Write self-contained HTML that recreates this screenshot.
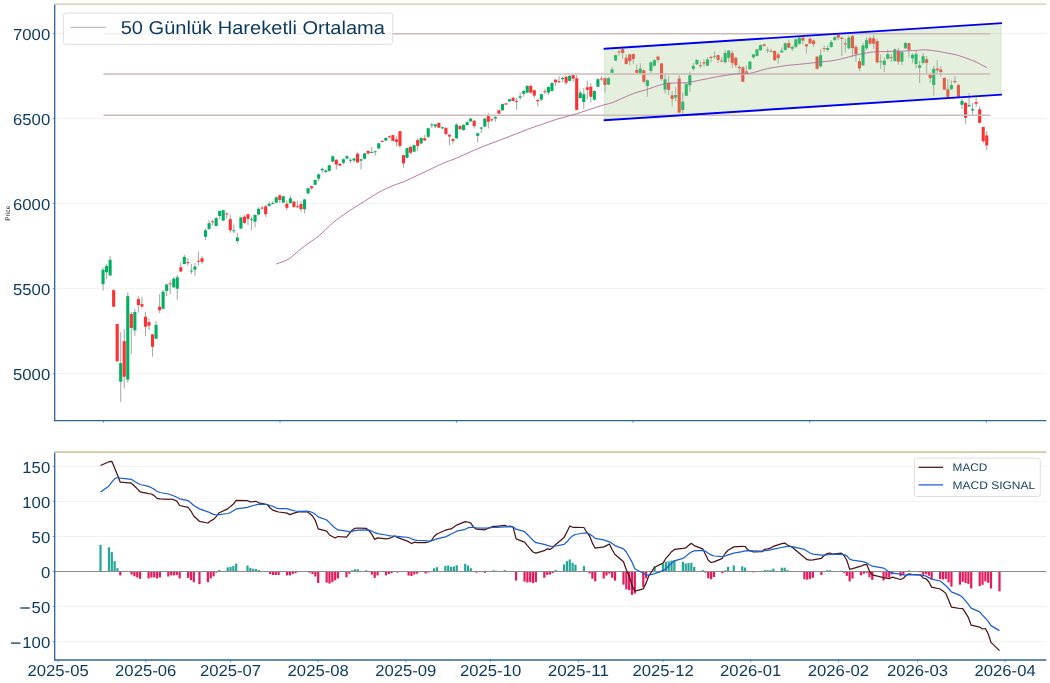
<!DOCTYPE html><html><head><meta charset="utf-8"><title>chart</title><style>html,body{margin:0;padding:0;background:#fff}svg{display:block;will-change:transform}text{font-family:"Liberation Sans",sans-serif;fill:#0c3a5c;text-rendering:geometricPrecision}</style></head><body>
<svg width="1050" height="683" viewBox="0 0 1050 683">
<rect width="1050" height="683" fill="#fff"/>
<line x1="54.7" y1="373.70" x2="1046.3" y2="373.70" stroke="#f1f1f1" stroke-width="1"/>
<line x1="54.7" y1="288.65" x2="1046.3" y2="288.65" stroke="#f1f1f1" stroke-width="1"/>
<line x1="54.7" y1="203.60" x2="1046.3" y2="203.60" stroke="#f1f1f1" stroke-width="1"/>
<line x1="54.7" y1="118.55" x2="1046.3" y2="118.55" stroke="#f1f1f1" stroke-width="1"/>
<line x1="54.7" y1="33.50" x2="1046.3" y2="33.50" stroke="#f1f1f1" stroke-width="1"/>
<g stroke="#ababab" stroke-width="1.1"><line x1="103.04" y1="267.51" x2="103.04" y2="290.48"/><line x1="106.57" y1="263.64" x2="106.57" y2="278.71"/><line x1="110.11" y1="256.03" x2="110.11" y2="276.12"/><line x1="113.64" y1="289.04" x2="113.64" y2="306.98"/><line x1="117.18" y1="324.00" x2="117.18" y2="361.50"/><line x1="120.71" y1="332.20" x2="120.71" y2="401.80"/><line x1="124.25" y1="328.90" x2="124.25" y2="388.60"/><line x1="127.78" y1="292.30" x2="127.78" y2="382.40"/><line x1="131.32" y1="312.00" x2="131.32" y2="354.00"/><line x1="134.85" y1="309.10" x2="134.85" y2="335.80"/><line x1="138.39" y1="296.22" x2="138.39" y2="312.72"/><line x1="141.92" y1="297.37" x2="141.92" y2="308.13"/><line x1="145.46" y1="311.70" x2="145.46" y2="336.10"/><line x1="148.99" y1="318.50" x2="148.99" y2="330.00"/><line x1="152.53" y1="334.00" x2="152.53" y2="356.60"/><line x1="156.06" y1="321.30" x2="156.06" y2="339.00"/><line x1="159.60" y1="294.21" x2="159.60" y2="313.15"/><line x1="163.13" y1="290.19" x2="163.13" y2="309.57"/><line x1="166.67" y1="283.73" x2="166.67" y2="295.93"/><line x1="170.20" y1="280.14" x2="170.20" y2="294.21"/><line x1="173.74" y1="276.98" x2="173.74" y2="288.04"/><line x1="177.27" y1="275.12" x2="177.27" y2="299.81"/><line x1="180.81" y1="262.20" x2="180.81" y2="271.96"/><line x1="184.34" y1="254.74" x2="184.34" y2="264.35"/><line x1="187.88" y1="257.89" x2="187.88" y2="265.79"/><line x1="191.41" y1="263.64" x2="191.41" y2="273.97"/><line x1="194.94" y1="262.92" x2="194.94" y2="275.84"/><line x1="198.48" y1="251.44" x2="198.48" y2="265.50"/><line x1="202.01" y1="256.17" x2="202.01" y2="263.92"/><line x1="205.55" y1="228.87" x2="205.55" y2="239.92"/><line x1="209.08" y1="220.26" x2="209.08" y2="229.88"/><line x1="212.62" y1="219.54" x2="212.62" y2="225.28"/><line x1="216.15" y1="216.67" x2="216.15" y2="226.43"/><line x1="219.69" y1="210.21" x2="219.69" y2="219.26"/><line x1="223.22" y1="209.50" x2="223.22" y2="221.27"/><line x1="226.76" y1="212.37" x2="226.76" y2="218.83"/><line x1="230.29" y1="214.52" x2="230.29" y2="232.75"/><line x1="233.83" y1="224.57" x2="233.83" y2="233.61"/><line x1="237.36" y1="233.18" x2="237.36" y2="243.51"/><line x1="240.90" y1="216.67" x2="240.90" y2="228.87"/><line x1="244.43" y1="214.52" x2="244.43" y2="223.85"/><line x1="247.97" y1="213.51" x2="247.97" y2="225.00"/><line x1="251.50" y1="216.67" x2="251.50" y2="230.31"/><line x1="255.04" y1="214.23" x2="255.04" y2="227.44"/><line x1="258.57" y1="207.34" x2="258.57" y2="215.52"/><line x1="262.11" y1="205.91" x2="262.11" y2="209.50"/><line x1="265.64" y1="204.90" x2="265.64" y2="216.96"/><line x1="269.18" y1="201.60" x2="269.18" y2="206.62"/><line x1="272.71" y1="200.88" x2="272.71" y2="204.47"/><line x1="276.25" y1="196.29" x2="276.25" y2="203.47"/><line x1="279.78" y1="194.14" x2="279.78" y2="203.04"/><line x1="283.31" y1="195.86" x2="283.31" y2="203.04"/><line x1="286.85" y1="200.17" x2="286.85" y2="210.21"/><line x1="290.38" y1="195.43" x2="290.38" y2="203.75"/><line x1="293.92" y1="200.60" x2="293.92" y2="207.63"/><line x1="297.45" y1="200.88" x2="297.45" y2="208.06"/><line x1="300.99" y1="200.88" x2="300.99" y2="211.65"/><line x1="304.52" y1="198.73" x2="304.52" y2="213.51"/><line x1="308.06" y1="187.68" x2="308.06" y2="193.71"/><line x1="311.59" y1="185.81" x2="311.59" y2="189.69"/><line x1="315.13" y1="179.35" x2="315.13" y2="185.09"/><line x1="318.66" y1="173.61" x2="318.66" y2="181.08"/><line x1="322.20" y1="167.41" x2="322.20" y2="173.15"/><line x1="325.73" y1="169.57" x2="325.73" y2="173.15"/><line x1="329.27" y1="164.54" x2="329.27" y2="171.43"/><line x1="332.80" y1="155.64" x2="332.80" y2="162.39"/><line x1="336.34" y1="158.80" x2="336.34" y2="169.57"/><line x1="339.87" y1="163.11" x2="339.87" y2="166.27"/><line x1="343.41" y1="158.51" x2="343.41" y2="164.54"/><line x1="346.94" y1="155.21" x2="346.94" y2="159.52"/><line x1="350.48" y1="158.08" x2="350.48" y2="163.39"/><line x1="354.01" y1="157.65" x2="354.01" y2="162.39"/><line x1="357.55" y1="152.34" x2="357.55" y2="162.82"/><line x1="361.08" y1="158.80" x2="361.08" y2="169.57"/><line x1="364.62" y1="152.77" x2="364.62" y2="159.52"/><line x1="368.15" y1="150.19" x2="368.15" y2="154.78"/><line x1="371.68" y1="147.03" x2="371.68" y2="153.06"/><line x1="375.22" y1="150.19" x2="375.22" y2="155.64"/><line x1="378.75" y1="142.73" x2="378.75" y2="149.04"/><line x1="382.29" y1="140.14" x2="382.29" y2="142.30"/><line x1="385.82" y1="137.27" x2="385.82" y2="141.29"/><line x1="389.36" y1="135.55" x2="389.36" y2="138.71"/><line x1="392.89" y1="134.40" x2="392.89" y2="141.29"/><line x1="396.43" y1="136.55" x2="396.43" y2="146.60"/><line x1="399.96" y1="130.81" x2="399.96" y2="148.04"/><line x1="403.50" y1="154.78" x2="403.50" y2="167.70"/><line x1="407.03" y1="147.61" x2="407.03" y2="158.08"/><line x1="410.57" y1="145.88" x2="410.57" y2="154.21"/><line x1="414.10" y1="144.45" x2="414.10" y2="151.91"/><line x1="417.64" y1="137.99" x2="417.64" y2="150.91"/><line x1="421.17" y1="137.27" x2="421.17" y2="144.16"/><line x1="424.71" y1="135.12" x2="424.71" y2="141.29"/><line x1="428.24" y1="127.94" x2="428.24" y2="137.99"/><line x1="431.78" y1="122.63" x2="431.78" y2="127.94"/><line x1="435.31" y1="123.64" x2="435.31" y2="128.37"/><line x1="438.85" y1="122.20" x2="438.85" y2="127.94"/><line x1="442.38" y1="126.51" x2="442.38" y2="129.38"/><line x1="445.92" y1="126.94" x2="445.92" y2="135.55"/><line x1="449.45" y1="134.40" x2="449.45" y2="145.17"/><line x1="452.99" y1="137.99" x2="452.99" y2="143.73"/><line x1="456.52" y1="123.20" x2="456.52" y2="138.70"/><line x1="460.05" y1="125.36" x2="460.05" y2="129.66"/><line x1="463.59" y1="124.35" x2="463.59" y2="130.67"/><line x1="467.12" y1="121.34" x2="467.12" y2="125.79"/><line x1="470.66" y1="117.75" x2="470.66" y2="122.20"/><line x1="474.19" y1="120.04" x2="474.19" y2="128.23"/><line x1="477.73" y1="132.53" x2="477.73" y2="142.58"/><line x1="481.26" y1="126.79" x2="481.26" y2="132.96"/><line x1="484.80" y1="117.75" x2="484.80" y2="127.51"/><line x1="488.33" y1="113.15" x2="488.33" y2="128.51"/><line x1="491.87" y1="118.18" x2="491.87" y2="121.77"/><line x1="495.40" y1="116.03" x2="495.40" y2="121.77"/><line x1="498.94" y1="109.57" x2="498.94" y2="114.16"/><line x1="502.47" y1="103.39" x2="502.47" y2="111.00"/><line x1="506.01" y1="102.82" x2="506.01" y2="104.97"/><line x1="509.54" y1="98.80" x2="509.54" y2="101.96"/><line x1="513.08" y1="96.65" x2="513.08" y2="101.39"/><line x1="516.61" y1="98.08" x2="516.61" y2="110.00"/><line x1="520.15" y1="92.34" x2="520.15" y2="99.81"/><line x1="523.68" y1="90.19" x2="523.68" y2="96.65"/><line x1="527.22" y1="85.17" x2="527.22" y2="93.06"/><line x1="530.75" y1="84.45" x2="530.75" y2="93.78"/><line x1="534.29" y1="89.47" x2="534.29" y2="98.08"/><line x1="537.82" y1="98.80" x2="537.82" y2="106.70"/><line x1="541.36" y1="93.49" x2="541.36" y2="100.95"/><line x1="544.89" y1="88.75" x2="544.89" y2="94.21"/><line x1="548.42" y1="86.31" x2="548.42" y2="94.78"/><line x1="551.96" y1="82.30" x2="551.96" y2="91.62"/><line x1="555.49" y1="78.71" x2="555.49" y2="85.88"/><line x1="559.03" y1="76.12" x2="559.03" y2="83.01"/><line x1="562.56" y1="76.55" x2="562.56" y2="81.86"/><line x1="566.10" y1="76.12" x2="566.10" y2="84.88"/><line x1="569.63" y1="75.12" x2="569.63" y2="81.58"/><line x1="573.17" y1="74.40" x2="573.17" y2="81.86"/><line x1="576.70" y1="75.12" x2="576.70" y2="110.28"/><line x1="580.24" y1="90.19" x2="580.24" y2="98.80"/><line x1="583.77" y1="88.04" x2="583.77" y2="109.14"/><line x1="587.31" y1="80.86" x2="587.31" y2="99.52"/><line x1="590.84" y1="83.13" x2="590.84" y2="102.51"/><line x1="594.38" y1="89.88" x2="594.38" y2="100.79"/><line x1="597.91" y1="78.11" x2="597.91" y2="87.15"/><line x1="601.45" y1="75.95" x2="601.45" y2="80.69"/><line x1="604.98" y1="77.39" x2="604.98" y2="92.46"/><line x1="608.52" y1="76.96" x2="608.52" y2="85.28"/><line x1="612.05" y1="66.91" x2="612.05" y2="73.37"/><line x1="615.59" y1="54.42" x2="615.59" y2="60.88"/><line x1="619.12" y1="49.40" x2="619.12" y2="55.86"/><line x1="622.66" y1="47.97" x2="622.66" y2="58.73"/><line x1="626.19" y1="54.42" x2="626.19" y2="64.47"/><line x1="629.73" y1="53.71" x2="629.73" y2="65.48"/><line x1="633.26" y1="53.42" x2="633.26" y2="64.04"/><line x1="636.79" y1="64.47" x2="636.79" y2="73.37"/><line x1="640.33" y1="63.04" x2="640.33" y2="73.51"/><line x1="643.86" y1="69.50" x2="643.86" y2="83.56"/><line x1="647.40" y1="79.54" x2="647.40" y2="96.77"/><line x1="650.93" y1="61.60" x2="650.93" y2="73.08"/><line x1="654.47" y1="58.73" x2="654.47" y2="66.62"/><line x1="658.00" y1="55.86" x2="658.00" y2="62.61"/><line x1="661.54" y1="62.61" x2="661.54" y2="80.69"/><line x1="665.07" y1="73.08" x2="665.07" y2="93.61"/><line x1="668.61" y1="75.95" x2="668.61" y2="95.04"/><line x1="672.14" y1="91.31" x2="672.14" y2="106.10"/><line x1="675.68" y1="87.01" x2="675.68" y2="101.07"/><line x1="679.21" y1="75.24" x2="679.21" y2="112.84"/><line x1="682.75" y1="92.17" x2="682.75" y2="113.99"/><line x1="686.28" y1="83.13" x2="686.28" y2="96.34"/><line x1="689.82" y1="71.65" x2="689.82" y2="91.74"/><line x1="693.35" y1="63.04" x2="693.35" y2="70.64"/><line x1="696.89" y1="59.16" x2="696.89" y2="64.90"/><line x1="700.42" y1="61.60" x2="700.42" y2="68.06"/><line x1="703.96" y1="59.45" x2="703.96" y2="66.62"/><line x1="707.49" y1="57.30" x2="707.49" y2="66.34"/><line x1="711.03" y1="55.86" x2="711.03" y2="62.61"/><line x1="714.56" y1="51.55" x2="714.56" y2="58.73"/><line x1="718.10" y1="54.42" x2="718.10" y2="63.04"/><line x1="721.63" y1="57.30" x2="721.63" y2="62.03"/><line x1="725.16" y1="50.60" x2="725.16" y2="63.23"/><line x1="728.70" y1="50.17" x2="728.70" y2="61.65"/><line x1="732.23" y1="50.60" x2="732.23" y2="67.82"/><line x1="735.77" y1="56.62" x2="735.77" y2="67.82"/><line x1="739.30" y1="64.95" x2="739.30" y2="73.13"/><line x1="742.84" y1="65.95" x2="742.84" y2="82.17"/><line x1="746.37" y1="65.24" x2="746.37" y2="73.56"/><line x1="749.91" y1="60.93" x2="749.91" y2="69.83"/><line x1="753.44" y1="53.75" x2="753.44" y2="58.49"/><line x1="756.98" y1="48.73" x2="756.98" y2="56.62"/><line x1="760.51" y1="44.42" x2="760.51" y2="50.88"/><line x1="764.05" y1="43.42" x2="764.05" y2="46.86"/><line x1="767.58" y1="47.30" x2="767.58" y2="53.04"/><line x1="771.12" y1="48.73" x2="771.12" y2="52.32"/><line x1="774.65" y1="50.17" x2="774.65" y2="60.93"/><line x1="778.19" y1="52.32" x2="778.19" y2="63.80"/><line x1="781.72" y1="47.30" x2="781.72" y2="53.04"/><line x1="785.26" y1="42.56" x2="785.26" y2="50.60"/><line x1="788.79" y1="39.69" x2="788.79" y2="48.30"/><line x1="792.33" y1="45.86" x2="792.33" y2="50.88"/><line x1="795.86" y1="38.25" x2="795.86" y2="48.01"/><line x1="799.40" y1="36.82" x2="799.40" y2="44.86"/><line x1="802.93" y1="36.53" x2="802.93" y2="44.42"/><line x1="806.47" y1="43.71" x2="806.47" y2="53.47"/><line x1="810.00" y1="37.68" x2="810.00" y2="44.14"/><line x1="813.53" y1="39.40" x2="813.53" y2="46.86"/><line x1="817.07" y1="55.91" x2="817.07" y2="69.54"/><line x1="820.60" y1="49.16" x2="820.60" y2="67.39"/><line x1="824.14" y1="45.43" x2="824.14" y2="52.03"/><line x1="827.67" y1="45.14" x2="827.67" y2="51.60"/><line x1="831.21" y1="40.12" x2="831.21" y2="47.73"/><line x1="834.74" y1="35.81" x2="834.74" y2="40.84"/><line x1="838.28" y1="33.95" x2="838.28" y2="40.12"/><line x1="841.81" y1="36.53" x2="841.81" y2="55.91"/><line x1="845.35" y1="39.11" x2="845.35" y2="52.61"/><line x1="848.88" y1="35.81" x2="848.88" y2="49.16"/><line x1="852.42" y1="35.09" x2="852.42" y2="57.34"/><line x1="855.95" y1="45.14" x2="855.95" y2="61.65"/><line x1="859.49" y1="57.77" x2="859.49" y2="71.41"/><line x1="863.02" y1="42.99" x2="863.02" y2="65.95"/><line x1="866.56" y1="37.25" x2="866.56" y2="50.17"/><line x1="870.09" y1="36.24" x2="870.09" y2="44.42"/><line x1="873.63" y1="35.09" x2="873.63" y2="48.73"/><line x1="877.16" y1="38.68" x2="877.16" y2="63.51"/><line x1="880.70" y1="54.47" x2="880.70" y2="68.83"/><line x1="884.23" y1="57.34" x2="884.23" y2="71.98"/><line x1="887.77" y1="49.45" x2="887.77" y2="59.50"/><line x1="891.30" y1="53.75" x2="891.30" y2="62.37"/><line x1="894.84" y1="48.30" x2="894.84" y2="61.65"/><line x1="898.37" y1="48.01" x2="898.37" y2="64.81"/><line x1="901.90" y1="51.17" x2="901.90" y2="65.24"/><line x1="905.44" y1="41.55" x2="905.44" y2="49.02"/><line x1="908.97" y1="42.56" x2="908.97" y2="57.77"/><line x1="912.51" y1="53.47" x2="912.51" y2="63.08"/><line x1="916.04" y1="50.88" x2="916.04" y2="68.39"/><line x1="919.58" y1="60.93" x2="919.58" y2="83.18"/><line x1="923.11" y1="53.04" x2="923.11" y2="64.52"/><line x1="926.65" y1="55.91" x2="926.65" y2="73.13"/><line x1="930.18" y1="72.41" x2="930.18" y2="82.75"/><line x1="933.72" y1="65.95" x2="933.72" y2="95.67"/><line x1="937.25" y1="60.21" x2="937.25" y2="73.13"/><line x1="940.79" y1="65.95" x2="940.79" y2="76.72"/><line x1="944.32" y1="77.44" x2="944.32" y2="90.07"/><line x1="947.86" y1="79.16" x2="947.86" y2="97.10"/><line x1="951.39" y1="80.31" x2="951.39" y2="89.92"/><line x1="954.93" y1="76.00" x2="954.93" y2="83.18"/><line x1="958.46" y1="83.90" x2="958.46" y2="97.10"/><line x1="962.00" y1="98.72" x2="962.00" y2="108.92"/><line x1="965.53" y1="102.34" x2="965.53" y2="123.63"/><line x1="969.07" y1="93.23" x2="969.07" y2="106.95"/><line x1="972.60" y1="103.11" x2="972.60" y2="114.63"/><line x1="976.14" y1="97.62" x2="976.14" y2="106.95"/><line x1="979.67" y1="106.40" x2="979.67" y2="123.19"/><line x1="983.21" y1="126.70" x2="983.21" y2="143.16"/><line x1="986.74" y1="131.09" x2="986.74" y2="149.97"/></g>
<g fill="#00b060"><rect x="101.49" y="269.81" width="3.10" height="14.35"/><rect x="105.02" y="266.08" width="3.10" height="6.17"/><rect x="108.56" y="259.76" width="3.10" height="15.65"/><rect x="119.16" y="363.10" width="3.10" height="18.60"/><rect x="126.23" y="296.20" width="3.10" height="83.40"/><rect x="133.30" y="312.00" width="3.10" height="18.30"/><rect x="154.51" y="324.90" width="3.10" height="13.80"/><rect x="161.58" y="291.62" width="3.10" height="17.22"/><rect x="165.12" y="284.45" width="3.10" height="6.46"/><rect x="172.19" y="278.71" width="3.10" height="8.61"/><rect x="175.72" y="277.27" width="3.10" height="11.48"/><rect x="182.79" y="256.89" width="3.10" height="7.18"/><rect x="189.86" y="270.53" width="3.10" height="0.90"/><rect x="193.39" y="266.51" width="3.10" height="3.16"/><rect x="204.00" y="230.31" width="3.10" height="6.46"/><rect x="207.53" y="223.13" width="3.10" height="5.74"/><rect x="214.60" y="218.11" width="3.10" height="7.89"/><rect x="218.14" y="210.93" width="3.10" height="5.02"/><rect x="221.67" y="210.21" width="3.10" height="10.33"/><rect x="232.28" y="230.31" width="3.10" height="0.90"/><rect x="235.81" y="237.48" width="3.10" height="3.59"/><rect x="239.35" y="217.39" width="3.10" height="11.20"/><rect x="249.95" y="219.26" width="3.10" height="0.90"/><rect x="253.49" y="214.95" width="3.10" height="6.75"/><rect x="257.02" y="208.78" width="3.10" height="5.74"/><rect x="267.63" y="203.75" width="3.10" height="2.15"/><rect x="271.16" y="203.04" width="3.10" height="0.90"/><rect x="274.70" y="197.30" width="3.10" height="5.31"/><rect x="281.76" y="196.29" width="3.10" height="6.32"/><rect x="288.83" y="198.30" width="3.10" height="4.74"/><rect x="302.97" y="199.45" width="3.10" height="9.76"/><rect x="306.51" y="188.25" width="3.10" height="5.17"/><rect x="313.58" y="180.07" width="3.10" height="4.74"/><rect x="317.11" y="174.33" width="3.10" height="4.31"/><rect x="320.65" y="168.85" width="3.10" height="1.44"/><rect x="324.18" y="170.57" width="3.10" height="1.44"/><rect x="327.72" y="165.26" width="3.10" height="5.74"/><rect x="331.25" y="156.22" width="3.10" height="5.45"/><rect x="341.86" y="159.23" width="3.10" height="3.59"/><rect x="345.39" y="156.22" width="3.10" height="2.30"/><rect x="348.93" y="159.81" width="3.10" height="0.90"/><rect x="352.46" y="158.51" width="3.10" height="2.01"/><rect x="359.53" y="159.23" width="3.10" height="1.44"/><rect x="363.07" y="153.35" width="3.10" height="5.45"/><rect x="370.13" y="152.06" width="3.10" height="0.90"/><rect x="373.67" y="151.34" width="3.10" height="0.90"/><rect x="377.20" y="143.30" width="3.10" height="5.17"/><rect x="384.27" y="137.99" width="3.10" height="2.58"/><rect x="405.48" y="148.04" width="3.10" height="9.76"/><rect x="412.55" y="145.17" width="3.10" height="6.46"/><rect x="419.62" y="137.99" width="3.10" height="5.45"/><rect x="426.69" y="128.23" width="3.10" height="8.61"/><rect x="430.23" y="124.35" width="3.10" height="0.90"/><rect x="433.76" y="124.35" width="3.10" height="2.15"/><rect x="440.83" y="127.22" width="3.10" height="1.15"/><rect x="454.97" y="124.64" width="3.10" height="13.64"/><rect x="462.04" y="124.92" width="3.10" height="5.17"/><rect x="465.57" y="122.20" width="3.10" height="2.87"/><rect x="469.11" y="118.61" width="3.10" height="2.73"/><rect x="476.18" y="133.25" width="3.10" height="2.58"/><rect x="479.71" y="127.51" width="3.10" height="1.15"/><rect x="483.25" y="118.61" width="3.10" height="7.89"/><rect x="493.85" y="117.03" width="3.10" height="1.44"/><rect x="500.92" y="104.11" width="3.10" height="6.17"/><rect x="507.99" y="99.23" width="3.10" height="2.15"/><rect x="518.60" y="96.36" width="3.10" height="1.29"/><rect x="522.13" y="90.91" width="3.10" height="2.87"/><rect x="525.67" y="85.88" width="3.10" height="6.75"/><rect x="539.81" y="94.21" width="3.10" height="5.31"/><rect x="546.87" y="87.03" width="3.10" height="5.60"/><rect x="550.41" y="83.01" width="3.10" height="7.89"/><rect x="561.01" y="77.99" width="3.10" height="1.15"/><rect x="568.08" y="75.84" width="3.10" height="5.02"/><rect x="578.69" y="92.63" width="3.10" height="5.45"/><rect x="582.22" y="94.21" width="3.10" height="7.75"/><rect x="592.83" y="91.03" width="3.10" height="8.61"/><rect x="596.36" y="79.26" width="3.10" height="7.46"/><rect x="606.97" y="78.11" width="3.10" height="6.46"/><rect x="610.50" y="69.50" width="3.10" height="3.30"/><rect x="614.04" y="55.14" width="3.10" height="5.31"/><rect x="638.78" y="68.49" width="3.10" height="4.59"/><rect x="645.85" y="80.26" width="3.10" height="5.74"/><rect x="649.38" y="62.32" width="3.10" height="8.61"/><rect x="652.92" y="60.17" width="3.10" height="5.45"/><rect x="663.52" y="79.26" width="3.10" height="10.33"/><rect x="674.13" y="95.04" width="3.10" height="2.44"/><rect x="681.20" y="101.79" width="3.10" height="8.18"/><rect x="684.73" y="83.85" width="3.10" height="11.91"/><rect x="688.27" y="75.24" width="3.10" height="10.05"/><rect x="691.80" y="65.91" width="3.10" height="2.87"/><rect x="695.34" y="59.88" width="3.10" height="4.31"/><rect x="705.94" y="59.45" width="3.10" height="6.17"/><rect x="713.01" y="55.86" width="3.10" height="0.90"/><rect x="723.61" y="53.04" width="3.10" height="9.33"/><rect x="727.15" y="50.60" width="3.10" height="7.18"/><rect x="748.36" y="61.65" width="3.10" height="7.61"/><rect x="751.89" y="54.47" width="3.10" height="2.87"/><rect x="755.43" y="49.45" width="3.10" height="6.46"/><rect x="758.96" y="45.14" width="3.10" height="5.02"/><rect x="766.03" y="49.74" width="3.10" height="0.90"/><rect x="780.17" y="50.60" width="3.10" height="1.72"/><rect x="783.71" y="43.28" width="3.10" height="6.60"/><rect x="790.78" y="47.01" width="3.10" height="1.72"/><rect x="794.31" y="39.40" width="3.10" height="7.46"/><rect x="797.85" y="37.68" width="3.10" height="6.03"/><rect x="819.05" y="55.19" width="3.10" height="11.20"/><rect x="826.12" y="48.01" width="3.10" height="1.87"/><rect x="829.66" y="41.98" width="3.10" height="5.02"/><rect x="833.19" y="37.25" width="3.10" height="2.87"/><rect x="847.33" y="37.68" width="3.10" height="10.62"/><rect x="861.47" y="45.43" width="3.10" height="19.81"/><rect x="865.01" y="40.12" width="3.10" height="8.18"/><rect x="879.15" y="61.36" width="3.10" height="0.90"/><rect x="882.68" y="60.64" width="3.10" height="4.16"/><rect x="886.22" y="54.18" width="3.10" height="4.59"/><rect x="893.29" y="49.45" width="3.10" height="11.48"/><rect x="900.35" y="52.03" width="3.10" height="9.62"/><rect x="903.89" y="42.99" width="3.10" height="5.31"/><rect x="910.96" y="54.76" width="3.10" height="3.59"/><rect x="914.49" y="54.04" width="3.10" height="10.05"/><rect x="918.03" y="65.24" width="3.10" height="2.58"/><rect x="921.56" y="56.19" width="3.10" height="6.60"/><rect x="932.17" y="68.83" width="3.10" height="16.22"/><rect x="949.84" y="85.04" width="3.10" height="4.16"/><rect x="960.45" y="100.91" width="3.10" height="3.84"/><rect x="967.52" y="105.08" width="3.10" height="1.32"/><rect x="971.05" y="109.14" width="3.10" height="1.32"/></g>
<g fill="#fe3032"><rect x="112.09" y="290.19" width="3.10" height="16.51"/><rect x="115.63" y="324.00" width="3.10" height="37.30"/><rect x="122.70" y="341.10" width="3.10" height="35.60"/><rect x="129.77" y="313.90" width="3.10" height="14.00"/><rect x="136.84" y="299.09" width="3.10" height="5.88"/><rect x="140.37" y="304.11" width="3.10" height="2.44"/><rect x="143.91" y="316.70" width="3.10" height="10.00"/><rect x="147.44" y="322.10" width="3.10" height="3.60"/><rect x="150.98" y="334.40" width="3.10" height="12.40"/><rect x="158.05" y="306.70" width="3.10" height="3.59"/><rect x="168.65" y="283.44" width="3.10" height="0.90"/><rect x="179.26" y="267.22" width="3.10" height="4.31"/><rect x="186.33" y="262.20" width="3.10" height="1.00"/><rect x="196.93" y="260.77" width="3.10" height="0.90"/><rect x="200.46" y="258.18" width="3.10" height="3.73"/><rect x="211.07" y="221.41" width="3.10" height="0.90"/><rect x="225.21" y="213.51" width="3.10" height="0.90"/><rect x="228.74" y="219.11" width="3.10" height="11.20"/><rect x="242.88" y="216.67" width="3.10" height="6.17"/><rect x="246.42" y="214.23" width="3.10" height="4.59"/><rect x="260.56" y="207.63" width="3.10" height="0.90"/><rect x="264.09" y="206.34" width="3.10" height="7.89"/><rect x="278.23" y="195.43" width="3.10" height="4.45"/><rect x="285.30" y="203.75" width="3.10" height="4.02"/><rect x="292.37" y="201.60" width="3.10" height="5.31"/><rect x="295.90" y="206.34" width="3.10" height="0.90"/><rect x="299.44" y="204.04" width="3.10" height="5.17"/><rect x="310.04" y="186.24" width="3.10" height="2.01"/><rect x="334.79" y="159.81" width="3.10" height="4.74"/><rect x="338.32" y="163.83" width="3.10" height="1.72"/><rect x="356.00" y="153.78" width="3.10" height="8.61"/><rect x="366.60" y="150.91" width="3.10" height="2.58"/><rect x="380.74" y="140.86" width="3.10" height="1.00"/><rect x="387.81" y="136.27" width="3.10" height="1.00"/><rect x="391.34" y="135.12" width="3.10" height="5.74"/><rect x="394.88" y="139.42" width="3.10" height="2.44"/><rect x="398.41" y="131.24" width="3.10" height="14.64"/><rect x="401.95" y="155.21" width="3.10" height="8.18"/><rect x="409.02" y="147.03" width="3.10" height="5.74"/><rect x="416.09" y="140.14" width="3.10" height="5.74"/><rect x="423.16" y="138.28" width="3.10" height="2.15"/><rect x="437.30" y="122.92" width="3.10" height="4.74"/><rect x="444.37" y="127.94" width="3.10" height="6.03"/><rect x="447.90" y="134.83" width="3.10" height="1.72"/><rect x="451.44" y="139.14" width="3.10" height="1.72"/><rect x="458.50" y="126.07" width="3.10" height="3.16"/><rect x="472.64" y="120.76" width="3.10" height="5.31"/><rect x="486.78" y="116.03" width="3.10" height="5.74"/><rect x="490.32" y="119.33" width="3.10" height="0.90"/><rect x="497.39" y="110.28" width="3.10" height="3.30"/><rect x="504.46" y="103.39" width="3.10" height="1.15"/><rect x="511.53" y="97.80" width="3.10" height="3.16"/><rect x="515.06" y="101.10" width="3.10" height="0.90"/><rect x="529.20" y="85.88" width="3.10" height="6.75"/><rect x="532.74" y="90.19" width="3.10" height="5.45"/><rect x="536.27" y="99.95" width="3.10" height="1.29"/><rect x="543.34" y="91.34" width="3.10" height="0.90"/><rect x="553.94" y="79.71" width="3.10" height="2.58"/><rect x="557.48" y="81.29" width="3.10" height="1.00"/><rect x="564.55" y="76.84" width="3.10" height="5.88"/><rect x="571.62" y="75.12" width="3.10" height="3.59"/><rect x="575.15" y="78.28" width="3.10" height="31.72"/><rect x="585.76" y="87.32" width="3.10" height="2.44"/><rect x="589.29" y="86.72" width="3.10" height="10.05"/><rect x="599.90" y="78.54" width="3.10" height="0.90"/><rect x="603.43" y="78.11" width="3.10" height="6.89"/><rect x="617.57" y="51.55" width="3.10" height="1.00"/><rect x="621.11" y="49.11" width="3.10" height="3.88"/><rect x="624.64" y="57.73" width="3.10" height="6.32"/><rect x="628.18" y="54.42" width="3.10" height="6.75"/><rect x="631.71" y="53.99" width="3.10" height="5.17"/><rect x="635.24" y="69.93" width="3.10" height="2.87"/><rect x="642.31" y="70.21" width="3.10" height="11.48"/><rect x="656.45" y="56.58" width="3.10" height="3.30"/><rect x="659.99" y="63.47" width="3.10" height="15.36"/><rect x="667.06" y="82.70" width="3.10" height="7.18"/><rect x="670.59" y="95.33" width="3.10" height="3.59"/><rect x="677.66" y="78.54" width="3.10" height="34.02"/><rect x="698.87" y="65.33" width="3.10" height="0.90"/><rect x="702.41" y="62.32" width="3.10" height="1.15"/><rect x="709.48" y="56.86" width="3.10" height="1.15"/><rect x="716.55" y="55.14" width="3.10" height="4.74"/><rect x="720.08" y="60.60" width="3.10" height="0.90"/><rect x="730.68" y="53.04" width="3.10" height="10.05"/><rect x="734.22" y="57.77" width="3.10" height="7.46"/><rect x="737.75" y="66.96" width="3.10" height="1.15"/><rect x="741.29" y="67.39" width="3.10" height="14.35"/><rect x="744.82" y="71.41" width="3.10" height="1.44"/><rect x="762.50" y="44.42" width="3.10" height="1.44"/><rect x="769.57" y="50.88" width="3.10" height="0.90"/><rect x="773.10" y="50.88" width="3.10" height="9.33"/><rect x="776.64" y="54.47" width="3.10" height="3.59"/><rect x="787.24" y="42.99" width="3.10" height="4.74"/><rect x="801.38" y="37.68" width="3.10" height="2.87"/><rect x="804.92" y="44.42" width="3.10" height="1.87"/><rect x="808.45" y="38.68" width="3.10" height="4.74"/><rect x="811.98" y="40.55" width="3.10" height="3.59"/><rect x="815.52" y="56.62" width="3.10" height="12.20"/><rect x="822.59" y="48.16" width="3.10" height="0.90"/><rect x="836.73" y="34.66" width="3.10" height="3.01"/><rect x="840.26" y="37.68" width="3.10" height="1.29"/><rect x="843.80" y="43.28" width="3.10" height="1.15"/><rect x="850.87" y="36.24" width="3.10" height="11.77"/><rect x="854.40" y="46.86" width="3.10" height="7.18"/><rect x="857.94" y="61.22" width="3.10" height="7.18"/><rect x="868.54" y="38.25" width="3.10" height="5.45"/><rect x="872.08" y="38.25" width="3.10" height="5.45"/><rect x="875.61" y="41.12" width="3.10" height="21.24"/><rect x="889.75" y="57.06" width="3.10" height="0.90"/><rect x="896.82" y="50.88" width="3.10" height="10.77"/><rect x="907.42" y="43.28" width="3.10" height="6.60"/><rect x="925.10" y="59.21" width="3.10" height="3.59"/><rect x="928.63" y="75.00" width="3.10" height="3.16"/><rect x="935.70" y="68.54" width="3.10" height="1.72"/><rect x="939.24" y="69.54" width="3.10" height="2.44"/><rect x="942.77" y="77.87" width="3.10" height="11.77"/><rect x="946.31" y="89.21" width="3.10" height="7.61"/><rect x="953.38" y="81.03" width="3.10" height="1.15"/><rect x="956.91" y="85.04" width="3.10" height="11.77"/><rect x="963.98" y="102.78" width="3.10" height="14.92"/><rect x="974.59" y="102.01" width="3.10" height="1.65"/><rect x="978.12" y="109.36" width="3.10" height="13.50"/><rect x="981.66" y="127.03" width="3.10" height="14.16"/><rect x="985.19" y="135.48" width="3.10" height="9.88"/></g>
<polygon points="604.6,48.8 1001.0,23.2 1001.0,94.7 604.6,120.2" fill="rgb(162,205,137)" fill-opacity="0.29" stroke="rgb(140,195,120)" stroke-opacity="0.3" stroke-width="1"/>
<line x1="103.4" y1="33.8" x2="990.3" y2="33.8" stroke="#ccbaba" stroke-width="1.5"/>
<line x1="103.4" y1="74.1" x2="990.3" y2="74.1" stroke="#ccbaba" stroke-width="1.5"/>
<line x1="103.4" y1="115.3" x2="990.3" y2="115.3" stroke="#ccbaba" stroke-width="1.5"/>
<polyline fill="none" stroke="#b0689c" stroke-width="0.9" stroke-linejoin="round" points="276.2,264.09 279.8,262.74 283.3,261.49 286.8,260.02 290.4,257.77 293.9,254.86 297.5,251.74 301.0,248.80 304.5,246.19 308.1,243.64 311.6,241.11 315.1,238.63 318.7,235.96 322.2,232.92 325.7,229.59 329.3,226.15 332.8,222.86 336.3,219.98 339.9,217.42 343.4,214.93 346.9,212.45 350.5,210.06 354.0,207.78 357.5,205.57 361.1,203.39 364.6,201.18 368.2,198.92 371.7,196.68 375.2,194.45 378.8,192.33 382.3,190.48 385.8,188.81 389.4,187.18 392.9,185.68 396.4,184.34 400.0,183.11 403.5,181.81 407.0,180.29 410.6,178.62 414.1,176.93 417.6,175.29 421.2,173.64 424.7,171.98 428.2,170.27 431.8,168.55 435.3,166.87 438.8,165.21 442.4,163.61 445.9,162.15 449.5,160.80 453.0,159.46 456.5,158.05 460.1,156.54 463.6,154.96 467.1,153.35 470.7,151.73 474.2,150.17 477.7,148.68 481.3,147.23 484.8,145.81 488.3,144.44 491.9,143.11 495.4,141.81 498.9,140.50 502.5,139.13 506.0,137.77 509.5,136.42 513.1,135.05 516.6,133.66 520.1,132.27 523.7,130.86 527.2,129.46 530.8,128.15 534.3,126.92 537.8,125.72 541.4,124.53 544.9,123.32 548.4,122.08 552.0,120.83 555.5,119.67 559.0,118.64 562.6,117.67 566.1,116.71 569.6,115.71 573.2,114.72 576.7,113.70 580.2,112.56 583.8,111.37 587.3,110.22 590.8,109.09 594.4,107.96 597.9,106.78 601.4,105.62 605.0,104.61 608.5,103.74 612.1,102.70 615.6,101.30 619.1,99.73 622.7,98.14 626.2,96.56 629.7,95.00 633.3,93.59 636.8,92.40 640.3,91.35 643.9,90.38 647.4,89.37 650.9,88.17 654.5,86.85 658.0,85.60 661.5,84.60 665.1,83.89 668.6,83.40 672.1,83.08 675.7,82.94 679.2,82.93 682.7,82.90 686.3,82.68 689.8,82.20 693.4,81.49 696.9,80.74 700.4,80.06 704.0,79.40 707.5,78.72 711.0,77.99 714.6,77.24 718.1,76.55 721.6,75.94 725.2,75.36 728.7,74.82 732.2,74.35 735.8,73.95 739.3,73.68 742.8,73.64 746.4,73.67 749.9,73.36 753.4,72.53 757.0,71.52 760.5,70.52 764.0,69.52 767.6,68.59 771.1,67.87 774.7,67.34 778.2,66.82 781.7,66.23 785.3,65.66 788.8,65.22 792.3,64.91 795.9,64.61 799.4,64.27 802.9,63.90 806.5,63.56 810.0,63.19 813.5,62.82 817.1,62.48 820.6,62.07 824.1,61.62 827.7,61.22 831.2,60.83 834.7,60.30 838.3,59.58 841.8,58.76 845.3,57.88 848.9,56.92 852.4,55.96 856.0,55.08 859.5,54.31 863.0,53.61 866.6,52.94 870.1,52.36 873.6,51.93 877.2,51.71 880.7,51.62 884.2,51.55 887.8,51.48 891.3,51.40 894.8,51.29 898.4,51.20 901.9,51.11 905.4,50.97 909.0,50.80 912.5,50.60 916.0,50.36 919.6,50.07 923.1,49.86 926.6,49.94 930.2,50.28 933.7,50.73 937.3,51.23 940.8,51.81 944.3,52.49 947.9,53.19 951.4,53.87 954.9,54.61 958.5,55.51 962.0,56.63 965.5,57.89 969.1,59.19 972.6,60.53 976.1,62.05 979.7,63.80 983.2,65.71 986.7,67.67"/>
<line x1="604.6" y1="48.8" x2="1001.0" y2="23.2" stroke="#0000ee" stroke-width="1.9" stroke-linecap="square"/>
<line x1="604.6" y1="120.2" x2="1001.0" y2="94.7" stroke="#0000ee" stroke-width="1.9" stroke-linecap="square"/>
<line x1="54.7" y1="4.2" x2="54.7" y2="421.2" stroke="#31659a" stroke-width="1.3"/>
<line x1="54.1" y1="420.6" x2="1046.3" y2="420.6" stroke="#31659a" stroke-width="1.3"/>
<line x1="54.1" y1="4.2" x2="1046.3" y2="4.2" stroke="#d3c7a0" stroke-width="1.3"/>
<line x1="52.7" y1="373.70" x2="54.7" y2="373.70" stroke="#31659a" stroke-width="0.65"/>
<text x="50.2" y="380.0" font-size="15.9" text-anchor="end" textLength="37.2" lengthAdjust="spacingAndGlyphs">5000</text>
<line x1="52.7" y1="288.65" x2="54.7" y2="288.65" stroke="#31659a" stroke-width="0.65"/>
<text x="50.2" y="294.9" font-size="15.9" text-anchor="end" textLength="37.2" lengthAdjust="spacingAndGlyphs">5500</text>
<line x1="52.7" y1="203.60" x2="54.7" y2="203.60" stroke="#31659a" stroke-width="0.65"/>
<text x="50.2" y="209.9" font-size="15.9" text-anchor="end" textLength="37.2" lengthAdjust="spacingAndGlyphs">6000</text>
<line x1="52.7" y1="118.55" x2="54.7" y2="118.55" stroke="#31659a" stroke-width="0.65"/>
<text x="50.2" y="124.8" font-size="15.9" text-anchor="end" textLength="37.2" lengthAdjust="spacingAndGlyphs">6500</text>
<line x1="52.7" y1="33.50" x2="54.7" y2="33.50" stroke="#31659a" stroke-width="0.65"/>
<text x="50.2" y="39.8" font-size="15.9" text-anchor="end" textLength="37.2" lengthAdjust="spacingAndGlyphs">7000</text>
<line x1="103.4" y1="420.6" x2="103.4" y2="422.8" stroke="#31659a" stroke-width="0.65"/>
<line x1="280.0" y1="420.6" x2="280.0" y2="422.8" stroke="#31659a" stroke-width="0.65"/>
<line x1="456.6" y1="420.6" x2="456.6" y2="422.8" stroke="#31659a" stroke-width="0.65"/>
<line x1="633.1" y1="420.6" x2="633.1" y2="422.8" stroke="#31659a" stroke-width="0.65"/>
<line x1="809.7" y1="420.6" x2="809.7" y2="422.8" stroke="#31659a" stroke-width="0.65"/>
<line x1="986.3" y1="420.6" x2="986.3" y2="422.8" stroke="#31659a" stroke-width="0.65"/>
<text transform="translate(9.5,213.2) rotate(-90)" font-size="6.6" text-anchor="middle" style="fill:#111">Price</text>
<rect x="63.4" y="13.1" width="329.3" height="31.2" rx="2.6" fill="#fff" fill-opacity="0.8" stroke="#d6d6d6" stroke-width="0.8"/>
<line x1="70.7" y1="27.3" x2="105.7" y2="27.3" stroke="#a6a6a6" stroke-width="0.9"/>
<text x="120.7" y="33.7" font-size="18.6" textLength="264.3" lengthAdjust="spacingAndGlyphs">50 Günlük Hareketli Ortalama</text>
<line x1="54.7" y1="466.35" x2="1046.3" y2="466.35" stroke="#f1f1f1" stroke-width="1"/>
<line x1="54.7" y1="501.40" x2="1046.3" y2="501.40" stroke="#f1f1f1" stroke-width="1"/>
<line x1="54.7" y1="536.45" x2="1046.3" y2="536.45" stroke="#f1f1f1" stroke-width="1"/>
<line x1="54.7" y1="606.55" x2="1046.3" y2="606.55" stroke="#f1f1f1" stroke-width="1"/>
<line x1="54.7" y1="641.60" x2="1046.3" y2="641.60" stroke="#f1f1f1" stroke-width="1"/>
<g fill="#26a69a"><rect x="99.41" y="544.90" width="2.20" height="26.60"/><rect x="107.89" y="547.38" width="2.20" height="24.12"/><rect x="110.71" y="552.14" width="2.20" height="19.36"/><rect x="113.54" y="561.10" width="2.20" height="10.40"/><rect x="116.37" y="568.14" width="2.20" height="3.36"/><rect x="218.14" y="570.05" width="2.20" height="1.45"/><rect x="226.62" y="567.38" width="2.20" height="4.12"/><rect x="229.45" y="566.81" width="2.20" height="4.69"/><rect x="232.27" y="565.86" width="2.20" height="5.64"/><rect x="235.10" y="563.57" width="2.20" height="7.93"/><rect x="246.41" y="565.48" width="2.20" height="6.02"/><rect x="249.24" y="567.95" width="2.20" height="3.55"/><rect x="252.06" y="568.71" width="2.20" height="2.79"/><rect x="254.89" y="568.90" width="2.20" height="2.60"/><rect x="257.72" y="570.05" width="2.20" height="1.45"/><rect x="351.01" y="570.24" width="2.20" height="1.26"/><rect x="353.83" y="569.29" width="2.20" height="2.21"/><rect x="356.66" y="569.29" width="2.20" height="2.21"/><rect x="365.14" y="570.24" width="2.20" height="1.26"/><rect x="432.99" y="568.33" width="2.20" height="3.17"/><rect x="435.82" y="567.19" width="2.20" height="4.31"/><rect x="444.30" y="565.86" width="2.20" height="5.64"/><rect x="447.13" y="565.48" width="2.20" height="6.02"/><rect x="449.95" y="566.81" width="2.20" height="4.69"/><rect x="452.78" y="566.43" width="2.20" height="5.07"/><rect x="455.61" y="565.29" width="2.20" height="6.21"/><rect x="464.09" y="563.95" width="2.20" height="7.55"/><rect x="466.92" y="565.48" width="2.20" height="6.02"/><rect x="469.74" y="568.24" width="2.20" height="3.26"/><rect x="492.36" y="570.33" width="2.20" height="1.17"/><rect x="495.19" y="570.71" width="2.20" height="0.79"/><rect x="503.67" y="570.14" width="2.20" height="1.36"/><rect x="509.32" y="570.90" width="2.20" height="0.60"/><rect x="554.55" y="569.95" width="2.20" height="1.55"/><rect x="563.03" y="564.43" width="2.20" height="7.07"/><rect x="565.86" y="561.19" width="2.20" height="10.31"/><rect x="568.69" y="559.48" width="2.20" height="12.02"/><rect x="571.51" y="562.71" width="2.20" height="8.79"/><rect x="574.34" y="564.62" width="2.20" height="6.88"/><rect x="582.82" y="566.14" width="2.20" height="5.36"/><rect x="653.50" y="566.33" width="2.20" height="5.17"/><rect x="661.98" y="564.05" width="2.20" height="7.45"/><rect x="664.80" y="561.76" width="2.20" height="9.74"/><rect x="667.63" y="561.19" width="2.20" height="10.31"/><rect x="670.46" y="560.62" width="2.20" height="10.88"/><rect x="673.29" y="560.24" width="2.20" height="11.26"/><rect x="681.77" y="561.76" width="2.20" height="9.74"/><rect x="684.59" y="563.48" width="2.20" height="8.02"/><rect x="687.42" y="563.10" width="2.20" height="8.40"/><rect x="690.25" y="562.71" width="2.20" height="8.79"/><rect x="693.08" y="566.90" width="2.20" height="4.60"/><rect x="701.56" y="570.14" width="2.20" height="1.36"/><rect x="724.17" y="570.33" width="2.20" height="1.17"/><rect x="727.00" y="566.90" width="2.20" height="4.60"/><rect x="732.65" y="565.38" width="2.20" height="6.12"/><rect x="741.13" y="566.33" width="2.20" height="5.17"/><rect x="743.96" y="567.48" width="2.20" height="4.02"/><rect x="746.79" y="571.10" width="2.20" height="0.40"/><rect x="763.75" y="570.14" width="2.20" height="1.36"/><rect x="766.58" y="570.14" width="2.20" height="1.36"/><rect x="769.40" y="570.14" width="2.20" height="1.36"/><rect x="772.23" y="568.62" width="2.20" height="2.88"/><rect x="780.71" y="567.67" width="2.20" height="3.83"/><rect x="783.54" y="567.67" width="2.20" height="3.83"/><rect x="786.37" y="570.14" width="2.20" height="1.36"/><rect x="789.19" y="571.10" width="2.20" height="0.40"/><rect x="825.94" y="570.33" width="2.20" height="1.17"/><rect x="828.77" y="570.14" width="2.20" height="1.36"/><rect x="840.08" y="570.71" width="2.20" height="0.79"/><rect x="907.93" y="570.38" width="2.20" height="1.12"/></g>
<g fill="#e5195f"><rect x="119.19" y="571.50" width="2.20" height="3.88"/><rect x="130.50" y="571.50" width="2.20" height="3.12"/><rect x="133.33" y="571.50" width="2.20" height="4.83"/><rect x="136.16" y="571.50" width="2.20" height="5.98"/><rect x="138.98" y="571.50" width="2.20" height="7.31"/><rect x="147.46" y="571.50" width="2.20" height="6.93"/><rect x="150.29" y="571.50" width="2.20" height="5.98"/><rect x="153.12" y="571.50" width="2.20" height="5.98"/><rect x="155.94" y="571.50" width="2.20" height="6.93"/><rect x="158.77" y="571.50" width="2.20" height="5.98"/><rect x="167.25" y="571.50" width="2.20" height="5.02"/><rect x="170.08" y="571.50" width="2.20" height="3.88"/><rect x="172.91" y="571.50" width="2.20" height="3.88"/><rect x="175.73" y="571.50" width="2.20" height="3.50"/><rect x="178.56" y="571.50" width="2.20" height="6.93"/><rect x="187.04" y="571.50" width="2.20" height="6.36"/><rect x="189.87" y="571.50" width="2.20" height="8.64"/><rect x="192.70" y="571.50" width="2.20" height="10.74"/><rect x="198.35" y="571.50" width="2.20" height="12.64"/><rect x="206.83" y="571.50" width="2.20" height="10.74"/><rect x="209.66" y="571.50" width="2.20" height="6.93"/><rect x="212.48" y="571.50" width="2.20" height="4.83"/><rect x="215.31" y="571.50" width="2.20" height="1.02"/><rect x="269.02" y="571.50" width="2.20" height="2.55"/><rect x="271.85" y="571.50" width="2.20" height="3.50"/><rect x="274.68" y="571.50" width="2.20" height="3.50"/><rect x="277.51" y="571.50" width="2.20" height="3.50"/><rect x="285.99" y="571.50" width="2.20" height="3.88"/><rect x="288.81" y="571.50" width="2.20" height="3.88"/><rect x="291.64" y="571.50" width="2.20" height="2.55"/><rect x="294.47" y="571.50" width="2.20" height="1.60"/><rect x="297.29" y="571.50" width="2.20" height="0.64"/><rect x="305.78" y="571.50" width="2.20" height="0.45"/><rect x="308.60" y="571.50" width="2.20" height="1.21"/><rect x="311.43" y="571.50" width="2.20" height="2.55"/><rect x="314.26" y="571.50" width="2.20" height="5.02"/><rect x="317.08" y="571.50" width="2.20" height="11.50"/><rect x="325.56" y="571.50" width="2.20" height="11.12"/><rect x="328.39" y="571.50" width="2.20" height="12.07"/><rect x="331.22" y="571.50" width="2.20" height="10.74"/><rect x="334.05" y="571.50" width="2.20" height="8.83"/><rect x="336.87" y="571.50" width="2.20" height="6.93"/><rect x="345.35" y="571.50" width="2.20" height="5.79"/><rect x="348.18" y="571.50" width="2.20" height="2.17"/><rect x="367.97" y="571.50" width="2.20" height="0.64"/><rect x="370.80" y="571.50" width="2.20" height="3.12"/><rect x="373.62" y="571.50" width="2.20" height="6.36"/><rect x="376.45" y="571.50" width="2.20" height="3.88"/><rect x="384.93" y="571.50" width="2.20" height="3.88"/><rect x="387.76" y="571.50" width="2.20" height="2.55"/><rect x="390.59" y="571.50" width="2.20" height="1.60"/><rect x="396.24" y="571.50" width="2.20" height="1.02"/><rect x="407.55" y="571.50" width="2.20" height="4.07"/><rect x="410.38" y="571.50" width="2.20" height="4.45"/><rect x="413.20" y="571.50" width="2.20" height="2.93"/><rect x="416.03" y="571.50" width="2.20" height="2.17"/><rect x="424.51" y="571.50" width="2.20" height="1.98"/><rect x="427.34" y="571.50" width="2.20" height="1.02"/><rect x="475.40" y="571.50" width="2.20" height="1.12"/><rect x="483.88" y="571.50" width="2.20" height="1.31"/><rect x="486.70" y="571.50" width="2.20" height="0.36"/><rect x="514.97" y="571.50" width="2.20" height="9.12"/><rect x="523.45" y="571.50" width="2.20" height="10.07"/><rect x="526.28" y="571.50" width="2.20" height="11.02"/><rect x="529.11" y="571.50" width="2.20" height="10.64"/><rect x="531.94" y="571.50" width="2.20" height="11.60"/><rect x="534.76" y="571.50" width="2.20" height="10.64"/><rect x="543.24" y="571.50" width="2.20" height="6.26"/><rect x="546.07" y="571.50" width="2.20" height="3.40"/><rect x="548.90" y="571.50" width="2.20" height="3.02"/><rect x="551.72" y="571.50" width="2.20" height="1.50"/><rect x="588.48" y="571.50" width="2.20" height="1.88"/><rect x="591.30" y="571.50" width="2.20" height="7.21"/><rect x="594.13" y="571.50" width="2.20" height="9.88"/><rect x="602.61" y="571.50" width="2.20" height="7.02"/><rect x="605.44" y="571.50" width="2.20" height="3.98"/><rect x="608.26" y="571.50" width="2.20" height="2.07"/><rect x="611.09" y="571.50" width="2.20" height="6.26"/><rect x="613.92" y="571.50" width="2.20" height="9.12"/><rect x="622.40" y="571.50" width="2.20" height="13.12"/><rect x="625.23" y="571.50" width="2.20" height="17.88"/><rect x="628.05" y="571.50" width="2.20" height="18.64"/><rect x="630.88" y="571.50" width="2.20" height="23.40"/><rect x="633.71" y="571.50" width="2.20" height="22.07"/><rect x="642.19" y="571.50" width="2.20" height="15.40"/><rect x="645.02" y="571.50" width="2.20" height="6.83"/><rect x="647.84" y="571.50" width="2.20" height="0.36"/><rect x="704.38" y="571.50" width="2.20" height="1.12"/><rect x="707.21" y="571.50" width="2.20" height="6.83"/><rect x="710.04" y="571.50" width="2.20" height="7.79"/><rect x="712.86" y="571.50" width="2.20" height="5.50"/><rect x="721.35" y="571.50" width="2.20" height="1.69"/><rect x="752.44" y="571.50" width="2.20" height="0.93"/><rect x="760.92" y="571.50" width="2.20" height="0.36"/><rect x="803.33" y="571.50" width="2.20" height="7.79"/><rect x="806.15" y="571.50" width="2.20" height="8.17"/><rect x="808.98" y="571.50" width="2.20" height="7.40"/><rect x="811.81" y="571.50" width="2.20" height="6.26"/><rect x="820.29" y="571.50" width="2.20" height="3.40"/><rect x="823.12" y="571.50" width="2.20" height="0.36"/><rect x="842.91" y="571.50" width="2.20" height="1.31"/><rect x="845.73" y="571.50" width="2.20" height="4.36"/><rect x="848.56" y="571.50" width="2.20" height="9.93"/><rect x="851.39" y="571.50" width="2.20" height="7.07"/><rect x="859.87" y="571.50" width="2.20" height="3.83"/><rect x="862.69" y="571.50" width="2.20" height="2.31"/><rect x="865.52" y="571.50" width="2.20" height="1.36"/><rect x="868.35" y="571.50" width="2.20" height="5.74"/><rect x="871.18" y="571.50" width="2.20" height="8.40"/><rect x="882.48" y="571.50" width="2.20" height="8.98"/><rect x="885.31" y="571.50" width="2.20" height="6.12"/><rect x="888.14" y="571.50" width="2.20" height="6.12"/><rect x="890.97" y="571.50" width="2.20" height="2.88"/><rect x="899.45" y="571.50" width="2.20" height="4.79"/><rect x="902.27" y="571.50" width="2.20" height="3.26"/><rect x="919.24" y="571.50" width="2.20" height="0.79"/><rect x="922.06" y="571.50" width="2.20" height="3.26"/><rect x="924.89" y="571.50" width="2.20" height="2.69"/><rect x="927.72" y="571.50" width="2.20" height="4.21"/><rect x="930.54" y="571.50" width="2.20" height="7.64"/><rect x="939.02" y="571.50" width="2.20" height="7.64"/><rect x="941.85" y="571.50" width="2.20" height="8.02"/><rect x="944.68" y="571.50" width="2.20" height="7.45"/><rect x="947.50" y="571.50" width="2.20" height="10.88"/><rect x="950.33" y="571.50" width="2.20" height="15.07"/><rect x="958.81" y="571.50" width="2.20" height="13.17"/><rect x="961.64" y="571.50" width="2.20" height="10.31"/><rect x="964.47" y="571.50" width="2.20" height="11.45"/><rect x="967.29" y="571.50" width="2.20" height="12.40"/><rect x="970.12" y="571.50" width="2.20" height="16.98"/><rect x="978.60" y="571.50" width="2.20" height="14.69"/><rect x="981.43" y="571.50" width="2.20" height="13.36"/><rect x="984.26" y="571.50" width="2.20" height="9.93"/><rect x="987.08" y="571.50" width="2.20" height="11.26"/><rect x="989.91" y="571.50" width="2.20" height="16.98"/><rect x="998.39" y="571.50" width="2.20" height="19.83"/></g>
<line x1="54.7" y1="571.5" x2="1046.3" y2="571.5" stroke="#8a8a8a" stroke-width="1.1"/>
<polyline fill="none" stroke="#4a1414" stroke-width="1.25" stroke-linejoin="round" points="100.5,465.5 109.0,461.7 111.8,461.3 114.6,468.0 117.5,475.0 120.3,482.2 131.6,483.2 134.4,486.0 137.3,488.9 140.1,491.8 148.6,493.7 151.4,494.0 154.2,495.6 157.0,498.4 159.9,498.8 168.4,499.4 171.2,499.0 174.0,499.8 176.8,501.1 179.7,505.5 188.1,507.4 191.0,511.2 193.8,516.0 199.4,521.3 207.9,523.0 210.8,520.7 213.6,519.4 216.4,516.3 219.2,512.7 227.7,508.9 230.5,506.4 233.4,504.1 236.2,500.3 247.5,500.7 250.3,501.9 253.2,501.7 256.0,501.3 258.8,502.8 267.3,504.5 270.1,508.0 273.0,510.2 275.8,511.2 278.6,512.0 287.1,513.1 289.9,514.6 292.7,513.7 295.6,512.7 298.4,512.0 306.9,511.8 309.7,513.5 312.5,516.0 315.4,520.7 318.2,528.9 326.7,531.2 329.5,535.0 332.3,536.5 335.1,538.0 338.0,536.5 346.5,537.1 349.3,533.7 352.1,530.2 354.9,528.3 357.8,528.0 366.2,528.3 369.1,530.8 371.9,534.4 374.7,539.4 377.6,537.9 386.0,538.8 388.9,538.4 391.7,537.5 394.5,536.0 397.3,537.3 408.6,541.7 411.5,543.6 414.3,542.2 417.1,542.6 425.6,542.6 428.4,542.0 431.3,540.7 434.1,536.5 436.9,534.0 445.4,530.2 448.2,529.3 451.1,528.9 453.9,527.0 456.7,525.1 465.2,521.7 468.0,522.0 470.8,523.1 473.7,527.3 476.5,529.2 485.0,529.8 487.8,528.4 490.6,527.3 493.5,526.3 496.3,526.3 504.8,525.4 507.6,526.5 510.4,526.0 513.2,527.3 516.1,538.9 524.6,542.1 527.4,545.6 530.2,548.8 533.0,552.0 535.9,553.2 544.3,550.7 547.2,548.8 550.0,549.4 552.8,547.5 555.7,544.4 564.1,537.4 567.0,531.7 569.8,526.0 572.6,527.3 575.4,527.3 583.9,527.5 586.7,532.2 589.6,536.0 592.4,543.1 595.2,548.2 603.7,546.9 606.5,545.6 609.4,544.0 612.2,549.8 615.0,554.5 623.5,561.8 626.3,569.8 629.2,576.0 632.0,585.4 634.8,591.1 643.3,588.8 646.1,583.1 648.9,575.5 654.6,567.3 663.1,563.1 665.9,558.3 668.7,555.1 671.6,551.7 674.4,549.4 682.9,548.4 685.7,547.9 688.5,545.6 691.3,543.3 694.2,545.6 702.7,548.8 705.5,554.5 708.3,560.2 711.1,562.5 714.0,561.8 722.4,558.3 725.3,553.2 728.1,550.3 733.8,546.9 742.2,546.3 745.1,546.5 747.9,549.8 753.5,552.0 762.0,551.7 764.9,549.2 767.7,548.8 770.5,548.2 773.3,546.3 781.8,543.7 784.6,543.1 787.5,545.0 790.3,546.3 793.1,547.9 804.4,557.4 807.3,559.7 810.1,560.2 812.9,559.9 821.4,558.3 824.2,555.5 827.0,553.6 829.9,553.0 832.7,554.0 841.2,553.2 844.0,555.5 846.8,560.2 849.7,569.4 852.5,568.7 861.0,566.2 863.8,564.9 866.6,564.3 869.4,571.0 872.3,574.8 883.6,577.6 886.4,578.2 889.2,578.6 892.1,577.2 900.5,579.5 903.4,578.2 906.2,575.3 909.0,573.8 911.9,574.4 920.3,574.8 923.2,578.0 926.0,578.8 928.8,581.8 931.6,587.1 940.1,589.0 943.0,591.0 945.8,593.4 948.6,599.9 951.4,607.1 959.9,608.5 962.7,608.7 965.6,612.9 968.4,617.6 971.2,625.2 979.7,627.1 982.5,629.0 985.4,628.5 988.2,633.8 991.0,642.4 999.5,650.6"/>
<polyline fill="none" stroke="#1a5ecf" stroke-width="1.25" stroke-linejoin="round" points="100.5,492.1 109.0,486.0 111.8,482.2 114.6,478.8 117.5,477.5 120.3,478.2 131.6,479.4 134.4,481.3 137.3,483.0 140.1,484.5 148.6,486.4 151.4,487.8 154.2,489.3 157.0,491.2 159.9,492.5 168.4,494.0 171.2,495.0 174.0,496.0 176.8,497.3 179.7,498.8 188.1,500.7 191.0,503.0 193.8,505.5 199.4,508.9 207.9,511.8 210.8,513.1 213.6,514.4 216.4,515.0 219.2,514.6 227.7,513.5 230.5,512.5 233.4,510.8 236.2,508.9 247.5,507.4 250.3,506.4 253.2,505.5 256.0,504.9 258.8,504.1 267.3,504.5 270.1,505.5 273.0,506.4 275.8,507.8 278.6,508.7 287.1,508.7 289.9,509.7 292.7,510.4 295.6,511.0 298.4,511.4 306.9,511.2 309.7,511.6 312.5,512.5 315.4,514.4 318.2,516.9 326.7,520.0 329.5,522.6 332.3,525.5 335.1,528.0 338.0,529.9 346.5,531.2 349.3,531.8 352.1,531.4 354.9,530.6 357.8,530.2 366.2,529.9 369.1,530.2 371.9,531.2 374.7,532.7 377.6,533.7 386.0,535.0 388.9,535.6 391.7,536.0 394.5,536.1 397.3,536.3 408.6,537.5 411.5,538.8 414.3,539.8 417.1,540.3 425.6,540.7 428.4,541.1 431.3,540.9 434.1,539.8 436.9,538.8 445.4,536.9 448.2,535.6 451.1,534.0 453.9,532.7 456.7,531.2 465.2,529.3 468.0,527.8 470.8,527.3 473.7,527.3 476.5,527.9 485.0,528.2 487.8,528.0 490.6,527.7 493.5,527.5 496.3,527.3 504.8,526.9 507.6,526.9 510.4,526.7 513.2,526.9 516.1,529.2 524.6,531.7 527.4,534.5 530.2,537.4 533.0,540.2 535.9,542.7 544.3,544.4 547.2,545.4 550.0,546.1 552.8,546.3 555.7,546.0 564.1,544.4 567.0,541.8 569.8,538.3 572.6,535.9 575.4,534.5 583.9,533.0 586.7,533.0 589.6,534.0 592.4,535.9 595.2,538.3 603.7,539.9 606.5,540.8 609.4,541.8 612.2,543.5 615.0,545.6 623.5,548.8 626.3,552.0 629.2,557.0 632.0,562.1 634.8,568.8 643.3,573.2 646.1,574.9 648.9,575.1 654.6,573.6 663.1,570.7 665.9,568.8 668.7,566.0 671.6,563.1 674.4,560.8 682.9,558.3 685.7,556.4 688.5,554.0 691.3,552.0 694.2,550.9 702.7,550.3 705.5,551.3 708.3,553.2 711.1,554.9 714.0,556.0 722.4,556.6 725.3,556.0 728.1,554.9 733.8,553.2 742.2,551.7 745.1,550.9 747.9,550.7 753.5,550.9 762.0,551.1 764.9,550.7 767.7,550.3 770.5,549.8 773.3,549.2 781.8,547.5 784.6,546.9 787.5,546.3 790.3,546.3 793.1,546.9 804.4,549.4 807.3,551.3 810.1,553.0 812.9,554.1 821.4,555.1 824.2,555.1 827.0,554.9 829.9,554.5 832.7,554.3 841.2,554.1 844.0,554.5 846.8,555.9 849.7,559.1 852.5,560.1 861.0,561.4 863.8,561.8 866.6,562.8 869.4,564.7 872.3,566.2 883.6,568.1 886.4,570.0 889.2,571.9 892.1,573.2 900.5,574.2 903.4,574.8 906.2,575.1 909.0,574.8 911.9,574.6 920.3,574.8 923.2,575.3 926.0,576.1 928.8,577.6 931.6,579.1 940.1,581.0 943.0,583.3 945.8,585.8 948.6,588.5 951.4,591.9 959.9,595.3 962.7,597.6 965.6,600.9 968.4,604.3 971.2,608.1 979.7,611.9 982.5,615.1 985.4,618.2 988.2,621.4 991.0,625.6 999.5,630.6"/>
<line x1="54.7" y1="452.2" x2="54.7" y2="660.6" stroke="#31659a" stroke-width="1.3"/>
<line x1="54.1" y1="660.0" x2="1046.3" y2="660.0" stroke="#31659a" stroke-width="1.3"/>
<line x1="54.1" y1="452.2" x2="1046.3" y2="452.2" stroke="#d3c7a0" stroke-width="1.7"/>
<line x1="52.7" y1="466.35" x2="54.7" y2="466.35" stroke="#31659a" stroke-width="0.65"/>
<text x="50.2" y="472.7" font-size="15.9" text-anchor="end" textLength="27.9" lengthAdjust="spacingAndGlyphs">150</text>
<line x1="52.7" y1="501.40" x2="54.7" y2="501.40" stroke="#31659a" stroke-width="0.65"/>
<text x="50.2" y="507.7" font-size="15.9" text-anchor="end" textLength="27.9" lengthAdjust="spacingAndGlyphs">100</text>
<line x1="52.7" y1="536.45" x2="54.7" y2="536.45" stroke="#31659a" stroke-width="0.65"/>
<text x="50.2" y="542.8" font-size="15.9" text-anchor="end" textLength="18.6" lengthAdjust="spacingAndGlyphs">50</text>
<line x1="52.7" y1="571.50" x2="54.7" y2="571.50" stroke="#31659a" stroke-width="0.65"/>
<text x="50.2" y="577.8" font-size="15.9" text-anchor="end" textLength="9.3" lengthAdjust="spacingAndGlyphs">0</text>
<line x1="52.7" y1="606.55" x2="54.7" y2="606.55" stroke="#31659a" stroke-width="0.65"/>
<text x="50.2" y="612.8" font-size="15.9" text-anchor="end" textLength="18.6" lengthAdjust="spacingAndGlyphs">50</text>
<line x1="20.3" y1="608.0" x2="29.8" y2="608.0" stroke="#0c3a5c" stroke-width="1.3"/>
<line x1="52.7" y1="641.60" x2="54.7" y2="641.60" stroke="#31659a" stroke-width="0.65"/>
<text x="50.2" y="647.9" font-size="15.9" text-anchor="end" textLength="27.9" lengthAdjust="spacingAndGlyphs">100</text>
<line x1="11.0" y1="643.1" x2="20.5" y2="643.1" stroke="#0c3a5c" stroke-width="1.3"/>
<line x1="58.1" y1="660.0" x2="58.1" y2="662.2" stroke="#31659a" stroke-width="0.65"/>
<text x="58.1" y="675.9" font-size="15.9" text-anchor="middle" textLength="61.2" lengthAdjust="spacingAndGlyphs">2025-05</text>
<line x1="145.7" y1="660.0" x2="145.7" y2="662.2" stroke="#31659a" stroke-width="0.65"/>
<text x="145.7" y="675.9" font-size="15.9" text-anchor="middle" textLength="61.2" lengthAdjust="spacingAndGlyphs">2025-06</text>
<line x1="230.5" y1="660.0" x2="230.5" y2="662.2" stroke="#31659a" stroke-width="0.65"/>
<text x="230.5" y="675.9" font-size="15.9" text-anchor="middle" textLength="61.2" lengthAdjust="spacingAndGlyphs">2025-07</text>
<line x1="318.2" y1="660.0" x2="318.2" y2="662.2" stroke="#31659a" stroke-width="0.65"/>
<text x="318.2" y="675.9" font-size="15.9" text-anchor="middle" textLength="61.2" lengthAdjust="spacingAndGlyphs">2025-08</text>
<line x1="405.8" y1="660.0" x2="405.8" y2="662.2" stroke="#31659a" stroke-width="0.65"/>
<text x="405.8" y="675.9" font-size="15.9" text-anchor="middle" textLength="61.2" lengthAdjust="spacingAndGlyphs">2025-09</text>
<line x1="490.6" y1="660.0" x2="490.6" y2="662.2" stroke="#31659a" stroke-width="0.65"/>
<text x="490.6" y="675.9" font-size="15.9" text-anchor="middle" textLength="61.2" lengthAdjust="spacingAndGlyphs">2025-10</text>
<line x1="578.3" y1="660.0" x2="578.3" y2="662.2" stroke="#31659a" stroke-width="0.65"/>
<text x="578.3" y="675.9" font-size="15.9" text-anchor="middle" textLength="61.2" lengthAdjust="spacingAndGlyphs">2025-11</text>
<line x1="663.1" y1="660.0" x2="663.1" y2="662.2" stroke="#31659a" stroke-width="0.65"/>
<text x="663.1" y="675.9" font-size="15.9" text-anchor="middle" textLength="61.2" lengthAdjust="spacingAndGlyphs">2025-12</text>
<line x1="750.7" y1="660.0" x2="750.7" y2="662.2" stroke="#31659a" stroke-width="0.65"/>
<text x="750.7" y="675.9" font-size="15.9" text-anchor="middle" textLength="61.2" lengthAdjust="spacingAndGlyphs">2026-01</text>
<line x1="838.4" y1="660.0" x2="838.4" y2="662.2" stroke="#31659a" stroke-width="0.65"/>
<text x="838.4" y="675.9" font-size="15.9" text-anchor="middle" textLength="61.2" lengthAdjust="spacingAndGlyphs">2026-02</text>
<line x1="917.5" y1="660.0" x2="917.5" y2="662.2" stroke="#31659a" stroke-width="0.65"/>
<text x="917.5" y="675.9" font-size="15.9" text-anchor="middle" textLength="61.2" lengthAdjust="spacingAndGlyphs">2026-03</text>
<line x1="1005.1" y1="660.0" x2="1005.1" y2="662.2" stroke="#31659a" stroke-width="0.65"/>
<text x="1005.1" y="675.9" font-size="15.9" text-anchor="middle" textLength="61.2" lengthAdjust="spacingAndGlyphs">2026-04</text>
<rect x="914.3" y="458.1" width="126" height="38.4" rx="2.4" fill="#fff" fill-opacity="0.8" stroke="#d6d6d6" stroke-width="0.8"/>
<line x1="918.6" y1="467.3" x2="943.1" y2="467.3" stroke="#4a1414" stroke-width="1.25"/>
<line x1="918.6" y1="484.9" x2="943.1" y2="484.9" stroke="#1a5ecf" stroke-width="1.25"/>
<text x="952.6" y="471.4" font-size="11.1" textLength="34.7" lengthAdjust="spacingAndGlyphs">MACD</text>
<text x="952.6" y="489.0" font-size="11.1" textLength="82.6" lengthAdjust="spacingAndGlyphs">MACD SIGNAL</text>
</svg></body></html>
